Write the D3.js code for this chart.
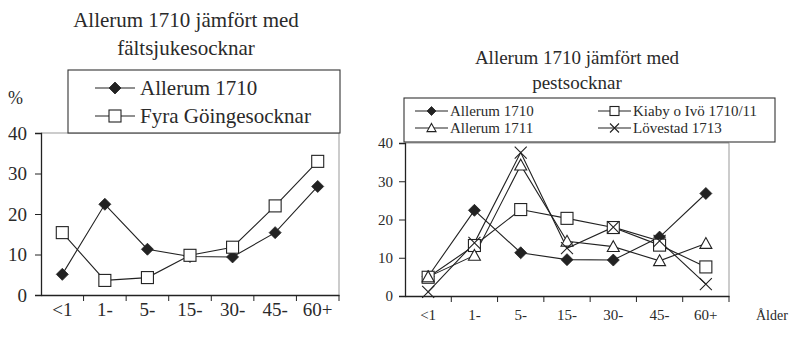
<!DOCTYPE html>
<html lang="sv">
<head>
  <meta charset="UTF-8">
  <title>Allerum 1710</title>
  <style>
    body { margin: 0; background: #fff; }
    svg text { font-family: "Liberation Serif", "Times New Roman", serif; fill: #2a2a2a; }
  </style>
</head>
<body>
<svg id="chart" width="789" height="337"></svg>

<script src="https://cdn.jsdelivr.net/npm/d3@7/dist/d3.min.js"></script>
<script>
// åldersgrupper och värden (procent)
var ageGroups = ["<1", "1-", "5-", "15-", "30-", "45-", "60+"];
var yTicks = [0, 10, 20, 30, 40];

var allerum1710 = [5.1, 22.4, 11.3, 9.5, 9.4, 15.4, 26.8];
var fyraGoinge  = [15.4, 3.6, 4.3, 9.8, 11.8, 22.0, 33.0];
var kiabyIvo    = [4.9, 13.2, 22.6, 20.3, 17.9, 13.3, 7.6];
var allerum1711 = [5.0, 10.6, 34.2, 14.3, 12.9, 9.2, 13.7];
var lovestad    = [1.1, 13.9, 37.5, 12.5, 18.0, 14.4, 3.1];

var svg = d3.select("#chart");
var ink = "#222";
var serif = '"Liberation Serif", "Times New Roman", serif';

function marker(g, type, x, y, s) {
  if (type == "diamond") {
    g.append("path")
      .attr("d", "M" + x + "," + (y - s) + "L" + (x + s) + "," + y + "L" + x + "," + (y + s) + "L" + (x - s) + "," + y + "Z")
      .attr("fill", ink).attr("stroke", ink).attr("stroke-width", 0.8);
  } else if (type == "square") {
    g.append("rect")
      .attr("x", x - s).attr("y", y - s).attr("width", 2 * s).attr("height", 2 * s)
      .attr("fill", "#fff").attr("stroke", ink).attr("stroke-width", 1.1);
  } else if (type == "triangle") {
    g.append("path")
      .attr("d", "M" + x + "," + (y - s) + "L" + (x + s) + "," + (y + s * 0.8) + "L" + (x - s) + "," + (y + s * 0.8) + "Z")
      .attr("fill", "#fff").attr("stroke", ink).attr("stroke-width", 1.1);
  } else if (type == "cross") {
    g.append("path")
      .attr("d", "M" + (x - s) + "," + (y - s) + "L" + (x + s) + "," + (y + s) + "M" + (x + s) + "," + (y - s) + "L" + (x - s) + "," + (y + s))
      .attr("fill", "none").attr("stroke", ink).attr("stroke-width", 1.1);
  }
}

function drawChart(c) {
  var g = svg.append("g");

  var x = d3.scaleBand().domain(ageGroups).range([c.left, c.right]);
  var y = d3.scaleLinear().domain([0, 40]).range([c.bottom, c.top]);

  // ram runt ritytan
  g.append("path")
    .attr("d", "M" + c.left + "," + c.top + "H" + c.right + "V" + c.bottom)
    .attr("fill", "none").attr("stroke", "#999").attr("stroke-width", 1);

  var yAxis = g.append("g")
    .attr("transform", "translate(" + c.left + ",0)")
    .call(d3.axisLeft(y).tickValues(yTicks).tickSize(6).tickPadding(c.yPad));
  var xAxis = g.append("g")
    .attr("transform", "translate(0," + c.bottom + ")")
    .call(d3.axisBottom(x).tickSize(0).tickPadding(c.xPad));

  [yAxis, xAxis].forEach(function (a) {
    a.attr("font-family", null);
    a.select(".domain").attr("stroke", ink).attr("stroke-width", 1.3);
    a.selectAll(".tick line").attr("stroke", ink);
    a.selectAll("text").attr("fill", "#2a2a2a").attr("font-size", c.tickFont);
  });

  // skiljestreck mellan grupperna på x-axeln
  g.selectAll(".sep").data(ageGroups.slice(1).concat(["end"]))
    .enter().append("line")
    .attr("x1", function (d) { return d == "end" ? c.right : x(d); })
    .attr("x2", function (d) { return d == "end" ? c.right : x(d); })
    .attr("y1", c.bottom).attr("y2", c.bottom + 6)
    .attr("stroke", ink);

  var line = d3.line()
    .x(function (d, i) { return x(ageGroups[i]) + x.bandwidth() / 2; })
    .y(function (d) { return y(d); });

  c.series.forEach(function (s) {
    g.append("path").datum(s.values)
      .attr("d", line).attr("fill", "none")
      .attr("stroke", ink).attr("stroke-width", 1.1);
  });
  c.series.forEach(function (s) {
    s.values.forEach(function (v, i) {
      marker(g, s.type, x(ageGroups[i]) + x.bandwidth() / 2, y(v), c.markSize);
    });
  });

  // titel
  c.title.forEach(function (t, i) {
    g.append("text").attr("x", c.titleX).attr("y", c.titleY + i * c.titleGap)
      .attr("text-anchor", "middle").attr("font-size", c.titleFont).text(t);
  });

  // legend
  var lg = c.legend;
  g.append("rect")
    .attr("x", lg.x).attr("y", lg.y).attr("width", lg.w).attr("height", lg.h)
    .attr("fill", "#fff").attr("stroke", "#333").attr("stroke-width", 1.1);
  c.series.forEach(function (s, i) {
    var p = lg.items[i];
    g.append("line").attr("x1", p[0]).attr("x2", p[0] + lg.lineW)
      .attr("y1", p[1]).attr("y2", p[1]).attr("stroke", ink).attr("stroke-width", 1.1);
    marker(g, s.type, p[0] + lg.lineW / 2, p[1], lg.markSize);
    g.append("text").attr("x", p[0] + lg.lineW + lg.gap).attr("y", p[1])
      .attr("dy", "0.35em").attr("font-size", lg.font).text(s.name);
  });
}

drawChart({
  left: 41, right: 339, top: 133, bottom: 295,
  tickFont: 19, yPad: 8, xPad: 8, markSize: 6,
  title: ["Allerum 1710 jämfört med", "fältsjukesocknar"],
  titleX: 186, titleY: 27, titleGap: 28, titleFont: 21,
  series: [
    { name: "Allerum 1710", values: allerum1710, type: "diamond" },
    { name: "Fyra Göingesocknar", values: fyraGoinge, type: "square" }
  ],
  legend: { x: 68, y: 70, w: 272, h: 63, font: 21, lineW: 40, gap: 5, markSize: 6,
            items: [[95, 88], [95, 116]] }
});

drawChart({
  left: 405, right: 729, top: 143, bottom: 296,
  tickFont: 15, yPad: 6, xPad: 13, markSize: 6,
  title: ["Allerum 1710 jämfört med", "pestsocknar"],
  titleX: 577, titleY: 64, titleGap: 25, titleFont: 19,
  series: [
    { name: "Allerum 1710", values: allerum1710, type: "diamond" },
    { name: "Kiaby o Ivö 1710/11", values: kiabyIvo, type: "square" },
    { name: "Allerum 1711", values: allerum1711, type: "triangle" },
    { name: "Lövestad 1713", values: lovestad, type: "cross" }
  ],
  legend: { x: 404, y: 98, w: 371, h: 44, font: 15, lineW: 33, gap: 2, markSize: 4.5,
            items: [[415, 111], [598, 111], [415, 128], [598, 128]] }
});

// axeltexter
svg.append("text").attr("x", 8).attr("y", 104).attr("font-size", 18).text("%");
svg.append("text").attr("x", 756).attr("y", 320).attr("font-size", 14).text("Ålder");
</script>
</body>
</html>
